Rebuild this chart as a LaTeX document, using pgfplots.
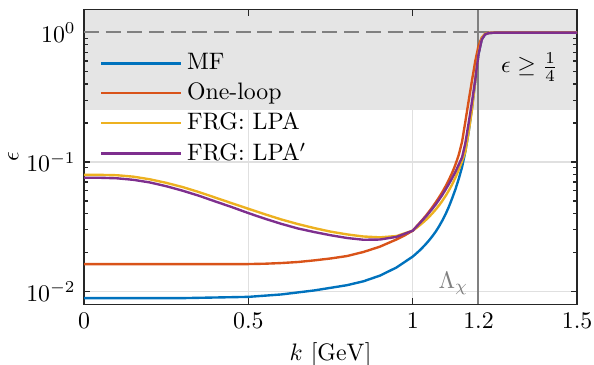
\documentclass[border=0pt]{standalone}
\usepackage{pgfplots}
\pgfplotsset{compat=1.18}
\usepackage{pgfplotstable}

% grid below the shaded band, ticks and axis lines above it
\pgfplotsset{
  layers/band/.define layer set={
    axis background,axis grid,pre main,axis ticks,axis lines,axis tick labels,
    main,axis descriptions,axis foreground
  }{
    grid style={/pgfplots/on layer=axis grid},
    tick style={/pgfplots/on layer=axis ticks},
    axis line style={/pgfplots/on layer=axis lines},
    label style={/pgfplots/on layer=axis descriptions},
    legend style={/pgfplots/on layer=axis descriptions},
    title style={/pgfplots/on layer=axis descriptions},
    colorbar style={/pgfplots/on layer=axis descriptions},
    ticklabel style={/pgfplots/on layer=axis tick labels},
    axis background@ style={/pgfplots/on layer=axis background},
    3d box foreground style={/pgfplots/on layer=axis foreground},
  },
}

\definecolor{cMF}{rgb}{0,0.447,0.741}
\definecolor{cOL}{rgb}{0.850,0.325,0.098}
\definecolor{cLPA}{rgb}{0.929,0.694,0.125}
\definecolor{cLPAp}{rgb}{0.494,0.184,0.556}

% epsilon(k) for the four approximations
\pgfplotstableread{
k eps
0.00 0.0089
0.10 0.0089
0.20 0.0089
0.30 0.0089
0.40 0.0090
0.50 0.0091
0.60 0.0095
0.70 0.0102
0.80 0.0112
0.85 0.0120
0.90 0.01327
0.95 0.01531
1.00 0.01862
1.01 0.01959
1.02 0.02065
1.03 0.02188
1.04 0.02328
1.05 0.02489
1.06 0.02679
1.07 0.02904
1.08 0.03184
1.09 0.03532
1.10 0.03963
1.11 0.04519
1.12 0.05248
1.13 0.06166
1.14 0.07413
1.15 0.09120
1.16 0.1202
1.17 0.1698
1.18 0.2570
1.19 0.4169
1.20 0.6761
1.21 0.8810
1.22 0.9638
1.23 0.9863
1.25 0.9954
1.50 0.9954
}\tabMF

\pgfplotstableread{
k eps
0.00 0.0163
0.50 0.0163
0.55 0.0164
0.60 0.0166
0.65 0.0169
0.70 0.0174
0.75 0.0180
0.80 0.0188
0.85 0.0202
0.90 0.0222
0.95 0.0252
0.975 0.0271
1.00 0.0295
1.01 0.0315
1.02 0.0336
1.03 0.0359
1.04 0.0385
1.05 0.0415
1.06 0.0449
1.07 0.0488
1.08 0.0533
1.09 0.0586
1.10 0.0650
1.11 0.0728
1.12 0.0826
1.13 0.0955
1.14 0.1135
1.15 0.1429
1.16 0.2042
1.17 0.2951
1.18 0.4217
1.19 0.5957
1.20 0.7852
1.21 0.9120
1.22 0.9705
1.23 0.9886
1.25 0.9954
1.50 0.9954
}\tabOL

\pgfplotstableread{
k eps
0.00 0.0795
0.05 0.0795
0.10 0.0790
0.15 0.0770
0.20 0.0735
0.25 0.0690
0.30 0.0640
0.35 0.0585
0.40 0.0530
0.45 0.0480
0.50 0.0435
0.55 0.0395
0.60 0.0360
0.65 0.0332
0.70 0.0309
0.75 0.0290
0.80 0.0276
0.85 0.0266
0.90 0.0262
0.95 0.0268
1.00 0.0295
1.01 0.0308
1.02 0.0323
1.03 0.0339
1.04 0.0357
1.05 0.0378
1.06 0.0402
1.07 0.0430
1.08 0.0462
1.09 0.0501
1.10 0.0547
1.11 0.0603
1.12 0.0671
1.13 0.0759
1.14 0.0871
1.15 0.1012
1.16 0.1202
1.17 0.1698
1.18 0.2512
1.19 0.4169
1.20 0.6918
1.21 0.9016
1.22 0.9727
1.23 0.9908
1.25 0.9954
1.50 0.9954
}\tabLPA

\pgfplotstableread{
k eps
0.00 0.0755
0.05 0.0755
0.10 0.0748
0.15 0.0728
0.20 0.0695
0.25 0.0650
0.30 0.0600
0.35 0.0548
0.40 0.0495
0.45 0.0448
0.50 0.0403
0.55 0.0365
0.60 0.0333
0.65 0.0307
0.70 0.0288
0.75 0.0272
0.80 0.0259
0.85 0.0251
0.90 0.0252
0.95 0.0264
1.00 0.0295
1.01 0.0314
1.02 0.0334
1.03 0.0356
1.04 0.0379
1.05 0.0406
1.06 0.0436
1.07 0.0470
1.08 0.0511
1.09 0.0557
1.10 0.0612
1.11 0.0676
1.12 0.0750
1.13 0.0841
1.14 0.0955
1.15 0.1084
1.16 0.1396
1.17 0.1995
1.18 0.2884
1.19 0.4266
1.20 0.6761
1.21 0.8810
1.22 0.9638
1.23 0.9863
1.25 0.9954
1.50 0.9954
}\tabLPAp

\begin{document}
\begin{tikzpicture}
\begin{semilogyaxis}[
  set layers=band,
  scale only axis,
  width=207pt, height=123.7pt,
  xmin=0, xmax=1.5,
  ymin=0.008, ymax=1.5,
  xtick={0,0.5,1,1.2,1.5},
  xticklabels={0,0.5,1,1.2,1.5},
  ytick={0.01,0.1,1},
  grid=major,
  major grid style={black!12, line width=0.5pt},
  axis line style={black!85, line width=0.5pt},
  tick style={black!85, line width=0.5pt},
  major tick length=2.6pt,
  minor tick length=1.6pt,
  xlabel={$k~[\mathrm{GeV}]$},
  ylabel={$\epsilon$},
  xlabel style={yshift=1pt},
  ylabel shift=-3.5pt,
  legend cell align=left,
  legend style={
    at={(rel axis cs:0.017,0.885)}, anchor=north west,
    draw=none, fill=none, row sep=0pt,
    font=\normalsize,
  },
  legend image code/.code={
    \draw[#1] (0cm,0cm) -- (33.5pt,0cm);
  },
]
% shaded band eps >= 1/4
\addplot[fill=black!10, draw=none, forget plot, on layer=pre main]
  coordinates {(0,0.25) (1.5,0.25) (1.5,1.5) (0,1.5)};
% eps = 1 reference and chiral scale
\addplot[black!50, line width=0.85pt, dash pattern=on 6.3pt off 2.8pt, forget plot]
  coordinates {(0,1) (1.5,1)};
\addplot[black!50, line width=0.85pt, forget plot]
  coordinates {(1.2,0.008) (1.2,1.5)};

\addplot[cMF, line width=1pt] table[x=k, y=eps] {\tabMF};
\addlegendentry{MF}
\addplot[cOL, line width=1pt] table[x=k, y=eps] {\tabOL};
\addlegendentry{One-loop}
\addplot[cLPA, line width=1pt] table[x=k, y=eps] {\tabLPA};
\addlegendentry{FRG: LPA}
\addplot[cLPAp, line width=1pt] table[x=k, y=eps] {\tabLPAp};
\addlegendentry{FRG: LPA$'$}

\node[black!50, anchor=base east, inner sep=0pt] at (axis cs:1.17,0.0106) {$\Lambda_\chi$};
\node[anchor=center, inner sep=0pt] at (axis cs:1.355,0.54) {$\epsilon\geq\frac{1}{4}$};
\end{semilogyaxis}
\pgfresetboundingbox
\path[use as bounding box]
  ([xshift=-35.3pt,yshift=-25.2pt]current axis.south west)
  rectangle ([xshift=7.1pt,yshift=4pt]current axis.north east);
\end{tikzpicture}
\end{document}
